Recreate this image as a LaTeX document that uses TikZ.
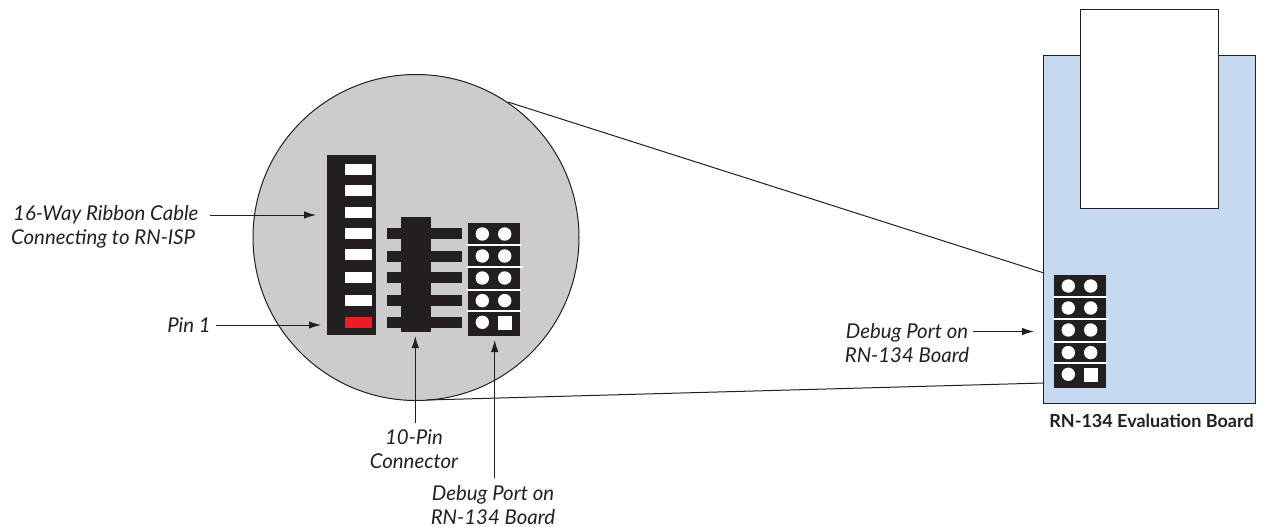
\documentclass[tikz,border=0pt]{standalone}
\usepackage{fontspec}
\setmainfont{Lato}
\usepackage{tikz}
\usetikzlibrary{positioning, arrows.meta}
\definecolor{negro}{RGB}{35, 31, 32}
\definecolor{gris}{RGB}{204, 204, 204}
\definecolor{celeste}{RGB}{197, 217, 241}
\definecolor{rojo}{RGB}{237, 28, 36}
\tikzset{
    lbl/.style={font=\fontsize{20.4}{24}\selectfont\itshape, text=negro, align=center, inner sep=0pt},
    blk/.style={rectangle, fill=negro, draw=none, inner sep=0pt, outer sep=0pt, anchor=north west},
    slot/.style={rectangle, fill=white, draw=none, inner sep=0pt, anchor=north west, minimum width=27, minimum height=11},
    pinbar/.style={rectangle, fill=negro, draw=none, inner sep=0pt, anchor=north west, minimum width=75, minimum height=11},
    conn/.style={-{Latex[length=12,width=7.5]}, negro, line width=1},
    edge/.style={-, negro, line width=1},
    hole/.style={circle, fill=white, inner sep=0pt, minimum size=13.4},
    sep/.style={white, line width=1.6},
    pics/header/.style={code={
        \node [blk, minimum width=52, minimum height=113] (-box) at (0,0) {};
        \foreach \y/\w in {22/54, 44/56, 67/54, 88/54}
            \draw [sep] (-1,\y) -- ++(\w,0);
        \foreach \y in {11,33,55,77.6}
            \foreach \x in {14.3,36.7}
                \node [hole] at (\x,\y) {};
        \node [hole] at (14.3,99.3) {};
        \node [rectangle, fill=white, inner sep=0pt, minimum size=14] at (37,100) {};
    }},
}
\begin{document}
\begin{tikzpicture}[x=1pt, y=-1pt]
    \useasboundingbox (0,0) rectangle (1263,527);

    % enlarged view
    \node [circle, fill=gris, draw=negro, line width=1, minimum size=326, inner sep=0pt, outer sep=0pt] (view) at (416,237.5) {};

    % ribbon cable
    \node [blk, minimum width=49, minimum height=180] (ribbon) at (327,155) {};
    \foreach \y in {164,185,207,228,249,272,295}
        \node [slot] at (345,\y) {};
    \node [slot, fill=rojo] (pinone) at (345,317) {};

    % 10-pin connector
    \foreach \y in {228,251,272,295,317}
        \node [pinbar] at (387,\y) {};
    \node [blk, minimum width=30, minimum height=115] (pins) at (401,217) {};

    % debug port, both of them
    \pic (portA) at (468,223) {header};

    % board
    \node [blk, fill=celeste, draw=negro, line width=1, minimum width=212, minimum height=348] (board) at (1043.6,55.5) {};
    \node [blk, fill=white, draw=negro, line width=1, minimum width=138, minimum height=199] (card) at (1080,9.5) {};
    \pic (portB) at (1054,275) {header};

    \node [font=\fontsize{18}{22}\selectfont\bfseries, text=negro, inner sep=0pt] (boardname) at (1151.5,421) {RN-134 Evaluation Board};

    % zoom lines
    \coordinate (viewA) at (508,102);
    \coordinate (viewB) at (427,400);
    \coordinate (boardA) at (1044,273);
    \coordinate (boardB) at (1044,383);
    \draw [edge] (viewA) -- (boardA);
    \draw [edge] (viewB) -- (boardB);

    % labels
    \node [lbl, align=left, anchor=west] (txtCable) at (11,227) {\hspace{2pt}16-Way Ribbon Cable\\Connecting to RN-ISP};
    \node [lbl, anchor=east] (txtPin) at (211,325) {Pin 1};
    \node [lbl] (txtConn) at (414,449) {10-Pin\\Connector};
    \node [lbl] (txtPortA) at (493,505) {Debug Port on\\RN-134 Board};
    \node [lbl] (txtPortB) at (907,343.5) {Debug Port on\\RN-134 Board};

    \coordinate (tailCable) at (210,215);
    \coordinate (tipCable) at (316,215);
    \coordinate (tailPin) at (216,325);
    \coordinate (tipPin) at (321,325);
    \coordinate (tailConn) at (415.3,423);
    \coordinate (tipConn) at (415.3,336);
    \coordinate (tailPortA) at (494.7,478);
    \coordinate (tipPortA) at (494.7,340);
    \coordinate (tailPortB) at (973,331.5);
    \coordinate (tipPortB) at (1034,331.5);

    \draw [conn] (tailCable) -- (tipCable);
    \draw [conn] (tailPin) -- (tipPin);
    \draw [conn] (tailConn) -- (tipConn);
    \draw [conn] (tailPortA) -- (tipPortA);
    \draw [conn] (tailPortB) -- (tipPortB);
\end{tikzpicture}
\end{document}
